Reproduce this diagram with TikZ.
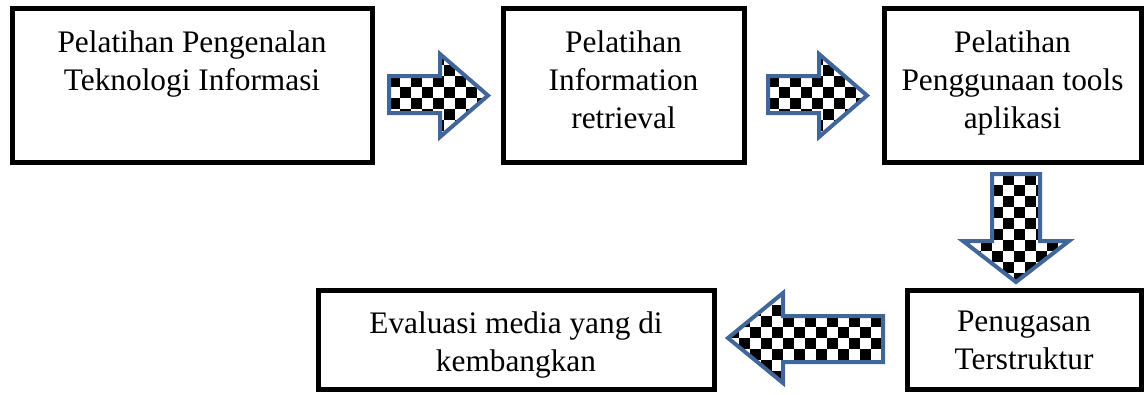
\documentclass[tikz,border=0pt]{standalone}
\usepackage{fontspec}
\setmainfont{Liberation Serif}
\usetikzlibrary{fit}
\definecolor{arrowblue}{HTML}{41679A}
\tikzset{
  box/.style={draw=black, line width=3.75pt, inner sep=0pt},
  txt/.style={align=center, inner sep=0pt, anchor=north, font=\fontsize{23.5pt}{28.5pt}\selectfont},
  blockarrow/.style={draw=arrowblue, line width=3pt, line join=miter},
  checker/.style={fill=black},
}
% #1 path, #2 x0, #3 y0, #4 last column, #5 last row
\newcommand\checkerarrow[5]{%
  \begin{scope}
    \clip #1;
    \fill[white] #1;
    \foreach \i in {0,...,#4} {\foreach \j in {0,...,#5} {
      \pgfmathtruncatemacro\ckpar{mod(\i+\j,2)}
      \ifnum\ckpar=0 \path[checker] ({#2+\i*11},{#3+\j*11}) rectangle ++(11,11);\fi
    }}
  \end{scope}
  \draw[blockarrow] #1;
}
\begin{document}
\begin{tikzpicture}[x=0.75pt, y=-0.75pt]
\useasboundingbox (0,0) rectangle (1145,394);

% boxes
\node[box, fit={(12,8) (372,162)}] (b1) {};
\node[box, fit={(503,8) (744,162)}] (b2) {};
\node[box, fit={(884,8) (1141,162)}] (b3) {};
\node[box, fit={(318,290) (714,389)}] (b4) {};
\node[box, fit={(907,290) (1141,389)}] (b5) {};

% texts
\node[txt] (t1) at (192,30) {Pelatihan Pengenalan\\Teknologi Informasi};
\node[txt] (t2) at (623.5,30) {Pelatihan\\Information\\retrieval};
\node[txt] (t3) at (1012.5,30) {Pelatihan\\Penggunaan tools\\aplikasi};
\node[txt] (t4) at (516,311) {Evaluasi media yang di\\kembangkan};
\node[txt] (t5) at (1024,311) {Penugasan\\Terstruktur};

% block arrows
\checkerarrow{(389,76) -- (440,76) -- (440,54) -- (488,95.5) -- (440,137) -- (440,113) -- (389,113) -- cycle}{389}{54}{9}{7}
\checkerarrow{(768,76) -- (819,76) -- (819,54) -- (867,95.5) -- (819,137) -- (819,113) -- (768,113) -- cycle}{768}{54}{9}{7}
\checkerarrow{(992,174) -- (1040,174) -- (1040,241) -- (1069,241) -- (1016,282) -- (963,241) -- (992,241) -- cycle}{959}{174}{10}{9}
\checkerarrow{(883,316) -- (783,316) -- (783,293) -- (728,338) -- (783,383) -- (783,362) -- (883,362) -- cycle}{728}{283}{14}{9}
\end{tikzpicture}
\end{document}
